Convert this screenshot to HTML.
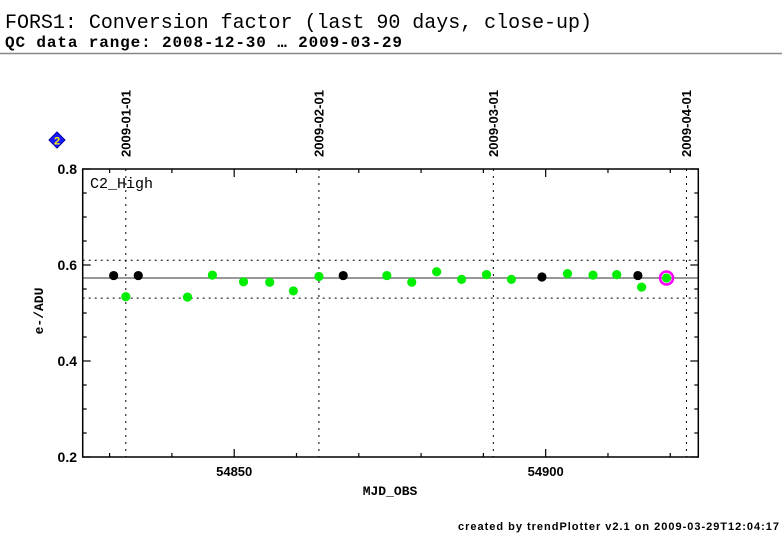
<!DOCTYPE html>
<html><head><meta charset="utf-8"><style>
html,body{margin:0;padding:0;background:#fff;width:782px;height:542px;overflow:hidden}
svg{display:block}
text{font-family:"Liberation Sans",sans-serif}
</style></head><body>
<svg id="chart" width="782" height="542" xmlns="http://www.w3.org/2000/svg">
<text x="5" y="28" font-size="20" textLength="587" style="font-family:'Liberation Mono',monospace">FORS1: Conversion factor (last 90 days, close-up)</text>
<text x="5" y="47" font-size="16" font-weight="bold" textLength="397" style="font-family:'Liberation Mono',monospace">QC data range: 2008-12-30 … 2009-03-29</text>
<line x1="0" y1="53.5" x2="782" y2="53.5" stroke="#888" stroke-width="1.5"/>
<g>
<polygon points="57,132 65,140 57,148 49,140" fill="#1a1aff" stroke="#0000aa"/>
<text x="57" y="144.5" text-anchor="middle" font-size="11" font-weight="bold" fill="#ffee00">2</text>
</g>
<text x="458" y="530" font-size="11" font-weight="bold" textLength="321">created by trendPlotter v2.1 on 2009-03-29T12:04:17</text>
<g id="plot"></g>
</svg>
<script>
const mjd = [54830.65,54832.6,54834.6,54842.5,54846.5,54851.5,54855.7,54859.5,54863.6,54867.5,54874.5,54878.5,54882.5,54886.5,54890.5,54894.5,54899.4,54903.5,54907.6,54911.4,54914.8,54915.4,54919.4];
const values = [0.578,0.534,0.578,0.533,0.579,0.565,0.564,0.546,0.576,0.578,0.578,0.564,0.586,0.570,0.580,0.570,0.575,0.582,0.579,0.580,0.578,0.554,0.573];
const pointKind = ["k","g","k","g","g","g","g","g","g","k","g","g","g","g","g","g","k","g","g","g","k","g","last"];
const refLines = [0.573,0.610,0.531];
const dateLabels = ["2009-01-01","2009-02-01","2009-03-01","2009-04-01"];
const dateMjd = [54832.6,54863.6,54891.6,54922.6];
const xTickLabels = [54850,54900];
const yTickLabels = [0.2,0.4,0.6,0.8];

const L=82.7,R=698.3,T=169,B=457;
const xMin=54825.68,xMax=54924.5,yMin=0.2,yMax=0.8;
const X=v=>L+(v-xMin)/(xMax-xMin)*(R-L);
const Y=v=>B-(v-yMin)/(yMax-yMin)*(B-T);
const NS="http://www.w3.org/2000/svg";
const g=document.getElementById('plot');
function mk(tag,attrs,parent){const e=document.createElementNS(NS,tag);for(const k in attrs)e.setAttribute(k,attrs[k]);(parent||g).appendChild(e);return e;}

dateMjd.forEach((d,i)=>{
  const x=X(d);
  const ln=mk('line',{x1:x,y1:T,x2:x,y2:B,stroke:'#000','stroke-width':1,'stroke-dasharray':'2,5'});
  
  
  const t=mk('text',{x:x+4.5,y:157,'font-size':13,'font-weight':'bold',textLength:67,transform:`rotate(-90 ${x+4.5} 157)`});
  
  
  t.textContent=dateLabels[i];
});
refLines.forEach((v,i)=>{
  const ln=mk('line',{x1:L,y1:Y(v),x2:R,y2:Y(v),stroke:i==0?'#777':'#000','stroke-width':i==0?1.5:1,'stroke-dasharray':i==0?'none':'2,4'});
  
  
});
const fr=mk('rect',{x:L,y:T,width:R-L,height:B-T,fill:'none',stroke:'#000','stroke-width':1.5});


for(let v=54830;v<=54920;v+=10){
  const x=X(v),len=(v%50==0)?8:4;
  mk('line',{x1:x,y1:B,x2:x,y2:B-len,stroke:'#000','stroke-width':1.2});
  mk('line',{x1:x,y1:T,x2:x,y2:T+len,stroke:'#000','stroke-width':1.2});
}
xTickLabels.forEach(v=>{
  const t=mk('text',{x:X(v),y:476,'text-anchor':'middle','font-size':13,'font-weight':'bold'});
  
  
  t.textContent=v;
});
for(let i=0;i<=12;i++){
  const v=0.2+i*0.05,y=Y(v),len=(i%4==0)?8:4;
  mk('line',{x1:L,y1:y,x2:L+len,y2:y,stroke:'#000','stroke-width':1.2});
  mk('line',{x1:R,y1:y,x2:R-len,y2:y,stroke:'#000','stroke-width':1.2});
}
yTickLabels.forEach(v=>{
  const t=mk('text',{x:77,y:Y(v)+5,'text-anchor':'end','font-size':14,'font-weight':'bold'});
  
  
  t.textContent=v.toFixed(1);
});
const xt=mk('text',{x:390,y:495,'text-anchor':'middle','font-size':13,'font-weight':'bold',style:"font-family:'Liberation Mono',monospace"});


xt.textContent='MJD_OBS';
const yt=mk('text',{x:43,y:311,'text-anchor':'middle','font-size':13,'font-weight':'bold',transform:'rotate(-90 43 311)',style:"font-family:'Liberation Mono',monospace"});


yt.textContent='e-/ADU';
const pl=mk('text',{x:90,y:188,'font-size':15,style:"font-family:'Liberation Mono',monospace"});


pl.textContent='C2_High';
mjd.forEach((d,i)=>{
  const x=X(d),y=Y(values[i]),k=pointKind[i];
  if(k==='last'){
    const r=mk('circle',{cx:x,cy:y,r:6.5,fill:'none',stroke:'#ff00ff','stroke-width':2.5});
    
    
  }
  const c=mk('circle',{cx:x,cy:y,r:4.6,fill:k==='k'?'#000':'#00ee00'});
  
  
});
</script>
</body></html>
